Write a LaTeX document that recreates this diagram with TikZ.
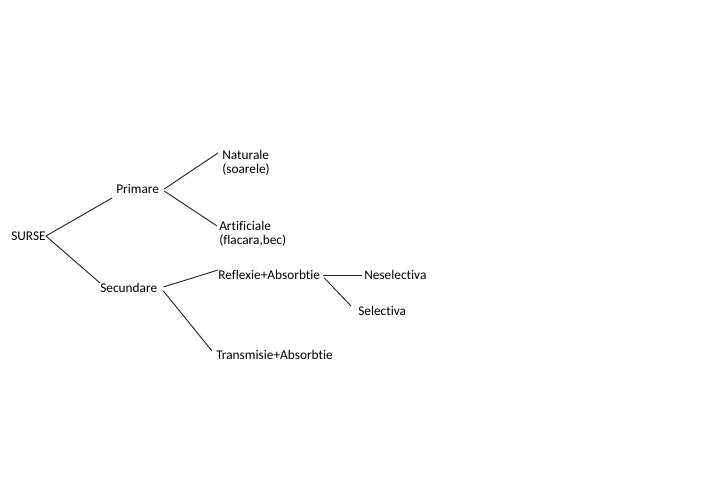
\documentclass[tikz,border=0pt]{standalone}
\usepackage{fontspec}
\setmainfont{Carlito}[Ligatures=NoCommon]
\usepackage{tikz}

\begin{document}
\begin{tikzpicture}[
    x=0.75pt, y=-0.75pt,
    lbl/.style={font=\fontsize{10}{10.6}\selectfont, inner sep=0pt, anchor=west, align=left},
    two/.style={lbl, anchor=north west},
    link/.style={draw=black!85, line width=0.7pt}
]
    \useasboundingbox (0,0) rectangle (710,480);

    % radacina
    \node[lbl] (surse) at (11,236) {SURSE};

    % primare
    \node[lbl] (primare) at (116,189) {Primare};
    \node[two] (naturale) at (222,150) {Naturale\\(soarele)};
    \node[two] (artificiale) at (219,221) {Artificiale\\(flacara,bec)};

    % secundare
    \node[lbl] (secundare) at (100,288) {Secundare};
    \node[lbl] (reflexie) at (218,275) {Reflexie+Absorbtie};
    \node[lbl] (transmisie) at (216,355) {Transmisie+Absorbtie};
    \node[lbl] (neselectiva) at (364,275) {Neselectiva};
    \node[lbl] (selectiva) at (358,311) {Selectiva};

    % ramuri
    \draw[link] (surse.east) -- ([shift={(-4,9)}]primare.west);
    \draw[link] (surse.east) -- ([shift={(0,-5)}]secundare.west);
    \draw[link] ([shift={(5,0)}]primare.east) -- ([shift={(-4,3)}]naturale.north west);
    \draw[link] ([shift={(5,2)}]primare.east) -- ([shift={(-2,5)}]artificiale.north west);
    \draw[link] ([shift={(6,-1)}]secundare.east) -- ([shift={(0,-5)}]reflexie.west);
    \draw[link] ([shift={(6,3)}]secundare.east) -- ([shift={(-4,-4)}]transmisie.west);
    \draw[link] ([shift={(3,0)}]reflexie.east) -- ([shift={(-2,0)}]neselectiva.west);
    \draw[link] ([shift={(4,3)}]reflexie.east) -- ([shift={(-7,-5)}]selectiva.west);
\end{tikzpicture}
\end{document}
